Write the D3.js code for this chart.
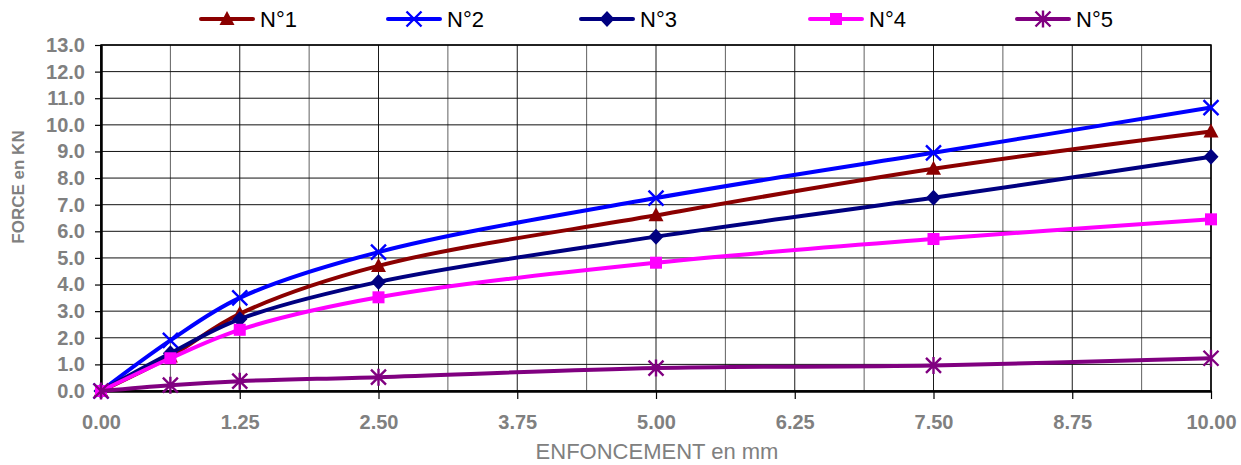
<!DOCTYPE html>
<html>
<head>
<meta charset="utf-8">
<script src="https://cdn.jsdelivr.net/npm/d3@7"></script>
<style>
  html, body { margin: 0; padding: 0; background: #fff; }
  svg { display: block; font-family: "Liberation Sans", Arial, sans-serif; }
</style>
</head>
<body>
<svg id="chart" width="1241" height="465"></svg>
<script>
// Penetration depth (mm) and measured force (kN) for each test specimen
const depth = [0, 0.625, 1.25, 2.5, 5, 7.5, 10];
const n1 = [0, 1.3, 2.9, 4.7, 6.6, 8.35, 9.75];
const n2 = [0, 1.9, 3.5, 5.22, 7.25, 8.95, 10.65];
const n3 = [0, 1.42, 2.7, 4.1, 5.8, 7.26, 8.8];
const n4 = [0, 1.23, 2.3, 3.52, 4.82, 5.71, 6.45];
const n5 = [0, 0.22, 0.37, 0.52, 0.86, 0.96, 1.23];

const seriesNames = ["N°1", "N°2", "N°3", "N°4", "N°5"];
const xTicks = [0, 1.25, 2.5, 3.75, 5, 6.25, 7.5, 8.75, 10];
const yTicks = d3.range(0, 14, 1);

const colors = ["#8b0000", "#0000ff", "#000080", "#ff00ff", "#800080"];
const symbols = ["triangle", "cross", "diamond", "square", "asterisk"];
const values = [n1, n2, n3, n4, n5];

const svg = d3.select("#chart");
const plotLeft = 101, plotRight = 1211, plotTop = 45, plotBottom = 391;

const x = d3.scaleLinear().domain([0, 10]).range([plotLeft, plotRight]);
const y = d3.scaleLinear().domain([0, 13]).range([plotBottom, plotTop]);

// grid: verticals every 0.625 mm, horizontals every 1 kN
const grid = svg.append("g");
grid.selectAll("line.v").data(d3.range(0, 10.001, 0.625)).join("line")
  .attr("x1", d => x(d)).attr("x2", d => x(d))
  .attr("y1", plotTop).attr("y2", plotBottom)
  .attr("stroke", (d, i) => i % 2 ? "#606060" : "#1a1a1a").attr("stroke-width", 1);
grid.selectAll("line.h").data(yTicks).join("line")
  .attr("x1", plotLeft).attr("x2", plotRight)
  .attr("y1", d => y(d)).attr("y2", d => y(d))
  .attr("stroke", "#111").attr("stroke-width", 1);

// frame
svg.append("rect").attr("x", plotLeft).attr("y", plotTop)
  .attr("width", plotRight - plotLeft).attr("height", plotBottom - plotTop)
  .attr("fill", "none").attr("stroke", "#000").attr("stroke-width", 1.5);

// axes
const xAxis = svg.append("g").attr("transform", `translate(0,${plotBottom})`)
  .call(d3.axisBottom(x).tickValues(xTicks).tickFormat(d3.format(".2f")).tickSize(8).tickSizeOuter(0).tickPadding(16));
const yAxis = svg.append("g").attr("transform", `translate(${plotLeft},0)`)
  .call(d3.axisLeft(y).tickValues(yTicks).tickFormat(d3.format(".1f")).tickSize(6).tickSizeOuter(0).tickPadding(10));
[xAxis, yAxis].forEach(a => {
  a.select(".domain").attr("stroke", "#000").attr("stroke-width", 2.5);
  a.selectAll(".tick line").attr("stroke", "#000").attr("stroke-width", 1.2);
  a.selectAll(".tick text").attr("fill", "#808080").attr("font-size", 20)
    .attr("font-weight", "bold").attr("font-family", "'Liberation Sans', Arial, sans-serif");
});

// axis titles
svg.append("text").attr("x", 657).attr("y", 459).attr("text-anchor", "middle")
  .attr("fill", "#808080").attr("font-size", 22).text("ENFONCEMENT en mm");
svg.append("text").attr("transform", "translate(24,187) rotate(-90)")
  .attr("text-anchor", "middle").attr("fill", "#808080").attr("font-size", 17)
  .attr("font-weight", "bold").text("FORCE en KN");

// marker drawing
function marker(g, type, color) {
  if (type === "triangle") {
    g.append("path").attr("d", "M0,-8L7.5,6L-7.5,6Z").attr("fill", color);
  } else if (type === "diamond") {
    g.append("path").attr("d", "M0,-8L7.5,0L0,8L-7.5,0Z").attr("fill", color);
  } else if (type === "square") {
    g.append("rect").attr("x", -6).attr("y", -6).attr("width", 12).attr("height", 12).attr("fill", color);
  } else if (type === "cross") {
    g.append("path").attr("d", "M-7.5,-7.5L7.5,7.5M-7.5,7.5L7.5,-7.5").attr("stroke", color).attr("stroke-width", 2.4);
  } else if (type === "asterisk") {
    g.append("path").attr("d", "M-7.5,-7.5L7.5,7.5M-7.5,7.5L7.5,-7.5M0,-8.5L0,8.5").attr("stroke", color).attr("stroke-width", 2.4);
  }
}

const line = d3.line().x(d => x(d[0])).y(d => y(d[1])).curve(d3.curveCatmullRom.alpha(0.5));

values.forEach((vals, i) => {
  const pts = depth.map((d, j) => [d, vals[j]]);
  const g = svg.append("g");
  g.append("path").datum(pts).attr("d", line).attr("fill", "none")
    .attr("stroke", colors[i]).attr("stroke-width", 4).attr("stroke-linejoin", "round");
  pts.forEach(p => {
    const m = g.append("g").attr("transform", `translate(${x(p[0])},${y(p[1])})`);
    marker(m, symbols[i], colors[i]);
  });
});

// legend
const legendX = [201, 388, 581, 810, 1017];
seriesNames.forEach((name, i) => {
  const g = svg.append("g").attr("transform", `translate(${legendX[i]},19)`);
  g.append("line").attr("x1", 0).attr("x2", 52).attr("stroke", colors[i])
    .attr("stroke-width", 4).attr("stroke-linecap", "round");
  const m = g.append("g").attr("transform", "translate(26,0)");
  marker(m, symbols[i], colors[i]);
  g.append("text").attr("x", 59).attr("y", 8).attr("font-size", 22).attr("fill", "#000").text(name);
});
</script>
</body>
</html>
